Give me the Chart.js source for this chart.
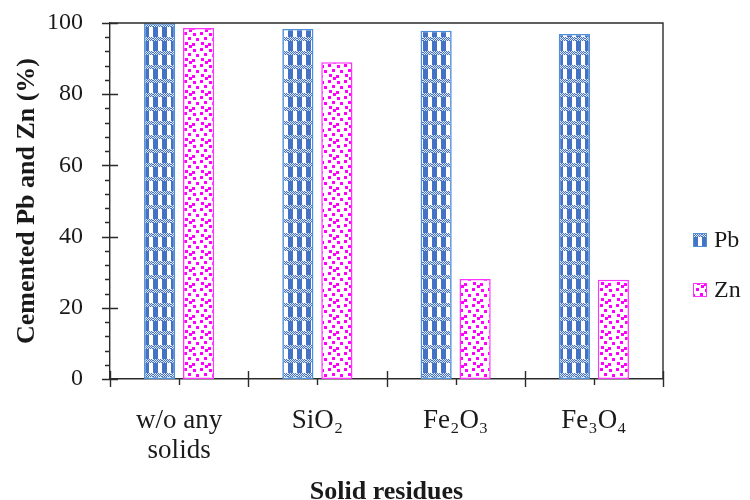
<!DOCTYPE html>
<html>
<head>
<meta charset="utf-8">
<script src="https://cdn.jsdelivr.net/npm/chart.js@4/dist/chart.umd.min.js"></script>
<style>
  html, body { margin: 0; padding: 0; background: #ffffff; }
  #wrap { width: 750px; height: 500px; }
</style>
</head>
<body>
<div id="wrap"><canvas id="chart" width="750" height="500"></canvas></div>
<script>
// Categories and measured percentages
const categories = [['w/o any', 'solids'], 'SiO₂', 'Fe₂O₃', 'Fe₃O₄'];
const seriesNames = ['Pb', 'Zn'];
const pbValues = [99.9, 98.3, 97.8, 96.9];
const znValues = [98.6, 89.0, 28.1, 27.9];
const yTickValues = [0, 20, 40, 60, 80, 100];

const FONT = "'Liberation Serif', 'Times New Roman', serif";
const INK = '#1a1a1a';
const AXIS = '#2b2b2b';

// Pb fill: blue vertical stripes crossed by fine checkered bands
function makePbPattern() {
  const c = document.createElement('canvas');
  c.width = 9; c.height = 14;
  const g = c.getContext('2d');
  g.fillStyle = '#ffffff'; g.fillRect(0, 0, 9, 14);
  g.fillStyle = '#4472C4';
  g.fillRect(0, 0, 5, 14);
  for (let y = 9; y < 13; y++) {
    for (let x = 0; x < 9; x++) {
      g.fillStyle = ((x + y) % 2 === 0) ? '#4472C4' : '#dfe7f6';
      g.fillRect(x, y, 1, 1);
    }
  }
  return g.createPattern(c, 'repeat');
}

// Zn fill: small magenta squares scattered on white
function makeZnPattern() {
  const c = document.createElement('canvas');
  c.width = 16; c.height = 16;
  const g = c.getContext('2d');
  g.fillStyle = '#ffffff'; g.fillRect(0, 0, 16, 16);
  g.fillStyle = '#FF00FF';
  [[1, 1], [8, 0], [12, 5], [4, 6], [0, 11], [9, 10], [13, 13]]
    .forEach(([x, y]) => g.fillRect(x, y, 3, 3));
  return g.createPattern(c, 'repeat');
}

const pbFill = makePbPattern();
const znFill = makeZnPattern();

// Tick marks, frame lines and legend drawn on top of the scales
const decorations = {
  id: 'decorations',
  afterDraw(chart) {
    const ctx = chart.ctx;
    const xs = chart.scales.x, ys = chart.scales.y;
    const L = xs.left, R = xs.right, T = ys.top, B = ys.bottom;
    ctx.save();
    ctx.strokeStyle = AXIS;
    ctx.lineWidth = 1.4;
    // frame top and right
    ctx.beginPath();
    ctx.moveTo(L, T); ctx.lineTo(R, T); ctx.lineTo(R, B);
    ctx.stroke();
    // y major (crossing) and minor (outside) ticks
    ctx.beginPath();
    for (let v = 0; v <= 100; v += 4) {
      const y = Math.round(ys.getPixelForValue(v)) + 0.5;
      if (v % 20 === 0) { ctx.moveTo(L - 8, y); ctx.lineTo(L + 8, y); }
      else { ctx.moveTo(L - 5, y); ctx.lineTo(L, y); }
    }
    // x boundary ticks (crossing) and center ticks (outside)
    for (let i = 0; i <= categories.length; i++) {
      const x = Math.round(xs.getPixelForValue(i - 0.5)) + 0.5;
      ctx.moveTo(x, B - 8); ctx.lineTo(x, B + 8);
    }
    for (let i = 0; i < categories.length; i++) {
      const x = Math.round(xs.getPixelForValue(i)) + 0.5;
      ctx.moveTo(x, B); ctx.lineTo(x, B + 6);
    }
    ctx.stroke();
    // legend
    const items = chart.data.datasets;
    ctx.font = "24px " + FONT;
    ctx.textBaseline = 'middle';
    ctx.textAlign = 'left';
    items.forEach((ds, k) => {
      const cy = 240 + k * 50;
      ctx.fillStyle = ds.backgroundColor;
      ctx.fillRect(693, cy - 7, 14, 14);
      ctx.strokeStyle = ds.borderColor;
      ctx.lineWidth = 1;
      ctx.strokeRect(693.5, cy - 6.5, 13, 13);
      ctx.fillStyle = INK;
      ctx.fillText(ds.label, 714, cy + 1);
    });
    ctx.restore();
  }
};

new Chart(document.getElementById('chart'), {
  type: 'bar',
  data: {
    labels: categories,
    datasets: [
      { label: seriesNames[0], data: pbValues, backgroundColor: pbFill, borderColor: '#4F8FD6', borderWidth: 1.5, borderSkipped: false },
      { label: seriesNames[1], data: znValues, backgroundColor: znFill, borderColor: '#FF33FF', borderWidth: 1.5, borderSkipped: false }
    ]
  },
  options: {
    responsive: false,
    animation: false,
    categoryPercentage: 0.564,
    barPercentage: 0.8,
    layout: { padding: { top: 23, right: 87, left: 0, bottom: 0 } },
    plugins: { legend: { display: false }, tooltip: { enabled: false } },
    scales: {
      x: {
        grid: { display: false, drawTicks: false },
        border: { display: true, color: AXIS, width: 1.4 },
        ticks: { color: INK, font: { family: FONT, size: 27, lineHeight: 1.1 }, padding: 27, maxRotation: 0 },
        title: { display: true, text: 'Solid residues', color: INK, font: { family: FONT, size: 26, weight: 'bold', lineHeight: 1 }, padding: { top: 0, bottom: -5 } },
        afterFit(scale) { scale.height = 121; scale.paddingLeft = 0; scale.paddingRight = 0; }
      },
      y: {
        min: 0, max: 100,
        afterBuildTicks(scale) { scale.ticks = yTickValues.map(v => ({ value: v })); },
        grid: { display: false, drawTicks: false },
        border: { display: true, color: AXIS, width: 1.4 },
        ticks: { color: INK, font: { family: FONT, size: 24 }, padding: 27 },
        title: { display: true, text: 'Cemented Pb and Zn (%)', color: INK, font: { family: FONT, size: 26, weight: 'bold', lineHeight: 1.2 }, padding: { top: 12, bottom: 0 } },
        afterFit(scale) { scale.width = 110; scale.paddingTop = 0; scale.paddingBottom = 0; }
      }
    }
  },
  plugins: [decorations]
});
</script>
</body>
</html>
